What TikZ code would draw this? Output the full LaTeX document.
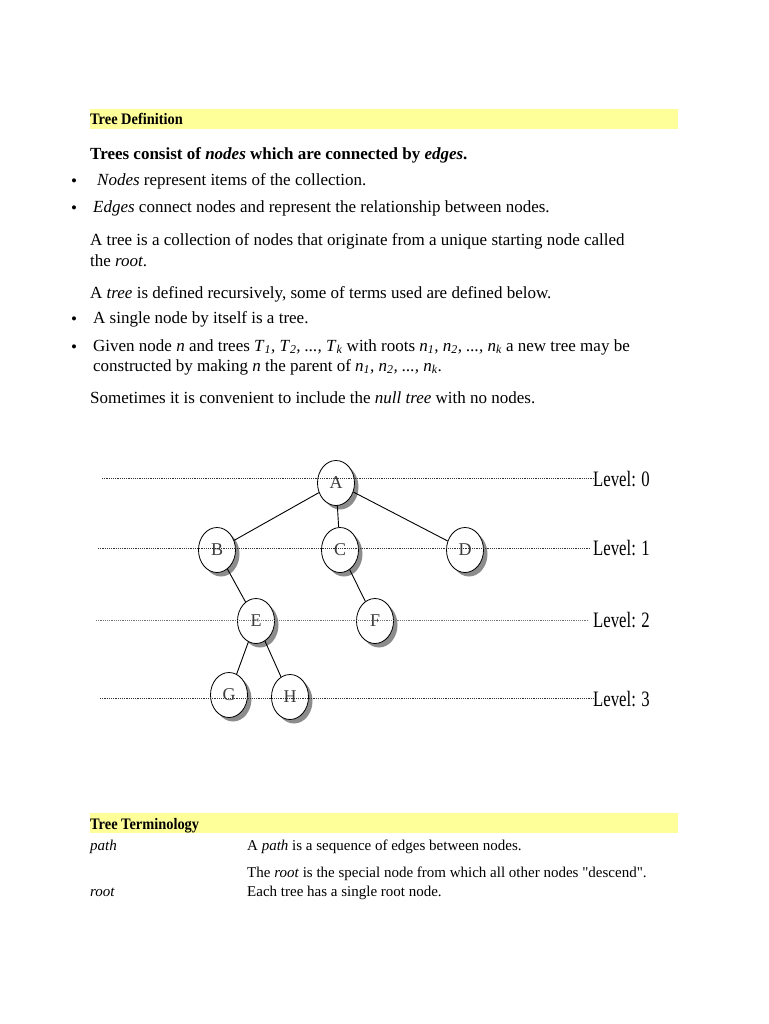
\documentclass[tikz,border=0pt]{standalone}
\usepackage{fontspec}
\setmainfont{Liberation Serif}
\newfontfamily\rawserif{Liberation Serif}
\usetikzlibrary{shapes.geometric,shadows}
\definecolor{hl}{RGB}{255,255,153}
\definecolor{nodetxt}{RGB}{60,60,60}
\newcommand\mysub[1]{\textsubscript{\itshape #1}}
\newcommand\dq{{\rawserif\char"22}}
\begin{document}
\begin{tikzpicture}[x=1pt,y=-1pt,
  body/.style={anchor=base west, inner sep=0pt, font=\fontsize{17}{20}\selectfont},
  head/.style={anchor=base west, inner sep=0pt, font=\fontsize{16}{18}\selectfont\bfseries},
  small/.style={anchor=base west, inner sep=0pt, font=\fontsize{15}{17}\selectfont},
  bul/.style={anchor=base west, inner sep=0pt, font=\fontsize{17}{20}\selectfont},
  bar/.style={fill=hl, draw=none},
  tnode/.style={ellipse, draw=black, line width=0.8pt, fill=white, minimum width=37pt, minimum height=45pt, inner sep=0pt,
     font=\fontsize{18}{18}\selectfont, text=nodetxt,
     drop shadow={shadow xshift=4pt, shadow yshift=-4pt, fill=black!45, opacity=1}},
  edge/.style={draw=black, line width=0.9pt},
  lvline/.style={draw=black!80, line width=0.8pt, dash pattern=on 1.2pt off 1pt},
  lvlabel/.style={anchor=base west, inner sep=0pt, font=\fontsize{22}{24}\selectfont}
]
\useasboundingbox (0,0) rectangle (768,1024);

% --- Tree Definition ---
\fill[bar] (90,109) rectangle (678,129);
\node[head] (h1) at (90,124.5) {\scalebox{0.9}[1]{Tree Definition}};
\node[body, font=\fontsize{17}{20}\selectfont\bfseries] (t1) at (90,160) {Trees consist of \textit{nodes} which are connected by \textit{edges}.};
\node[bul] (b1) at (71,187) {•};
\node[body] (t2) at (97,186) {\textit{Nodes} represent items of the collection.};
\node[bul] (b2) at (71,214) {•};
\node[body] (t3) at (93,213) {\textit{Edges} connect nodes and represent the relationship between nodes.};
\node[body] (t4) at (90,245) {A tree is a collection of nodes that originate from a unique starting node called};
\node[body] (t5) at (90,266) {the \textit{root}.};
\node[body] (t6) at (90,298) {A \textit{tree} is defined recursively, some of terms used are defined below.};
\node[bul] (b3) at (71,324) {•};
\node[body] (t7) at (93,323) {A single node by itself is a tree.};
\node[bul] (b4) at (71,352) {•};
\node[body] (t8) at (93,351) {Given node \textit{n} and trees \textit{T}\mysub{1}\textit{, T}\mysub{2}\textit{, ..., T}\mysub{k} with roots \textit{n}\mysub{1}\textit{, n}\mysub{2}\textit{, ..., n}\mysub{k} a new tree may be};
\node[body] (t9) at (93,371) {constructed by making \textit{n} the parent of \textit{n}\mysub{1}\textit{, n}\mysub{2}\textit{, ..., n}\mysub{k}.};
\node[body] (t10) at (90,403) {Sometimes it is convenient to include the \textit{null tree} with no nodes.};

% --- Tree ---
\node[tnode] (A) at (336,483) {A};
\node[tnode] (B) at (217,550) {B};
\node[tnode] (C) at (340,550) {C};
\node[tnode] (D) at (465,550) {D};
\node[tnode] (E) at (256,621) {E};
\node[tnode] (F) at (375,621) {F};
\node[tnode] (G) at (229,695) {G};
\node[tnode] (H) at (290,697) {H};

\draw[edge] (A) -- (B);
\draw[edge] (A) -- (C);
\draw[edge] (A) -- (D);
\draw[edge] (B) -- (E);
\draw[edge] (C) -- (F);
\draw[edge] (E) -- (G);
\draw[edge] (E) -- (H);

\node[lvlabel] (L0) at (593,486) {\scalebox{0.76}[1]{Level: 0}};
\node[lvlabel] (L1) at (593,555) {\scalebox{0.76}[1]{Level: 1}};
\node[lvlabel] (L2) at (593,627) {\scalebox{0.76}[1]{Level: 2}};
\node[lvlabel] (L3) at (593,706) {\scalebox{0.76}[1]{Level: 3}};

\coordinate (s0) at (102,478);
\coordinate (s1) at (98,548);
\coordinate (s2) at (96,620);
\coordinate (s3) at (100,698);
\draw[lvline] (s0) -- (s0 -| L0.west);
\draw[lvline] (s1) -- ([xshift=-4pt]s1 -| L1.west);
\draw[lvline, draw=black!55] (s2) -- ([xshift=-5pt]s2 -| L2.west);
\draw[lvline] (s3) -- (s3 -| L3.west);

% --- Tree Terminology ---
\fill[bar] (90,813) rectangle (678,833);
\node[head] (h2) at (90,829) {\scalebox{0.9}[1]{Tree Terminology}};
\node[small] (p1) at (90,850) {\textit{path}};
\node[small] (p2) at (247,850) {A \textit{path} is a sequence of edges between nodes.};
\node[small] (r2) at (247,877) {The \textit{root} is the special node from which all other nodes \dq descend\dq.};
\node[small] (r3) at (247,896) {Each tree has a single root node.};
\node[small] (r1) at (90,896) {\textit{root}};
\end{tikzpicture}
\end{document}
